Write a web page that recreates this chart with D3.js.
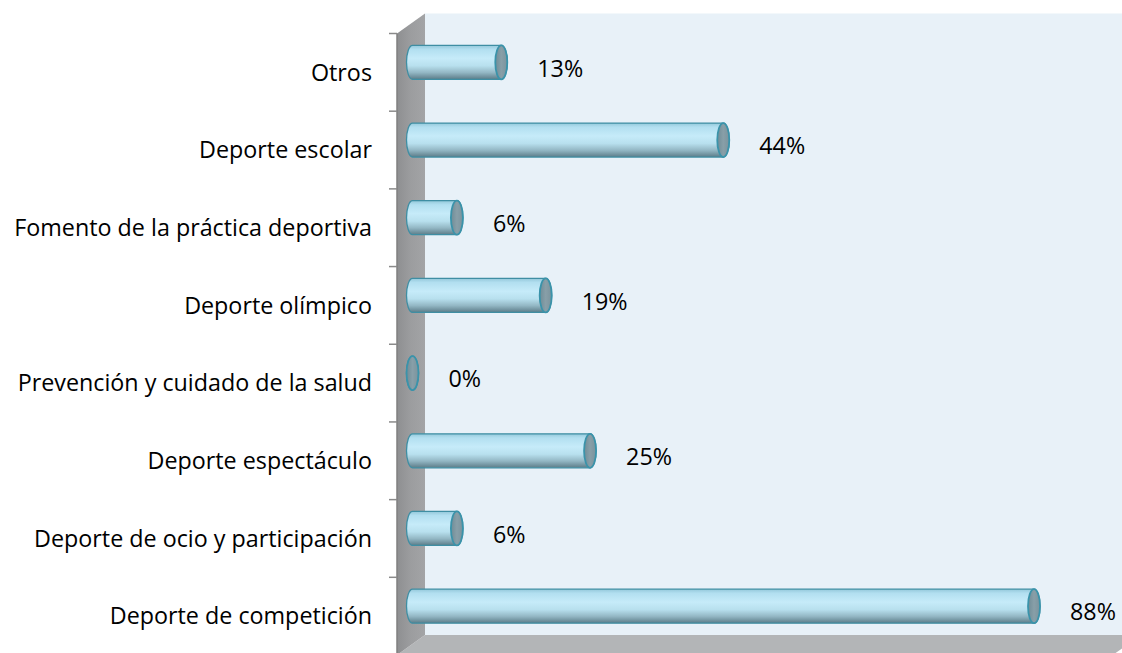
<!DOCTYPE html>
<html><head><meta charset="utf-8">
<script src="https://cdn.jsdelivr.net/npm/d3@7"></script>
<style>
html,body{margin:0;padding:0;background:#fff;}
svg{display:block;font-family:"Open Sans", sans-serif;font-weight:400;}
</style></head>
<body><svg id="c" width="1122" height="653"></svg>
<script>
// Data (top to bottom as drawn)
const categories = ["Otros","Deporte escolar","Fomento de la práctica deportiva","Deporte olímpico","Prevención y cuidado de la salud","Deporte espectáculo","Deporte de ocio y participación","Deporte de competición"];
const values = [12.5, 43.75, 6.25, 18.75, 0, 25, 6.25, 87.5];
const data = categories.map((c,i)=>({c, v: values[i]}));

const svg = d3.select("#c");
const W = 1122, H = 653;
const frontLeft = 397, frontTop = 33.5, frontBottom = 655;
const depthX = 28, depthY = -20;

const x = d3.scaleLinear().domain([0,100]).range([398.5, 1108.8]);
const y = d3.scaleBand().domain(categories).range([frontTop, frontBottom]).padding(0);

// defs
const defs = svg.append("defs");
const g1 = defs.append("linearGradient").attr("id","barGrad").attr("x1",0).attr("y1",0).attr("x2",0).attr("y2",1);
[[0,"#94c8da"],[0.12,"#b2dff0"],[0.38,"#c6ebf9"],[0.6,"#b8e0ee"],[0.8,"#93b7c4"],[1,"#5c7c88"]].forEach(s=>g1.append("stop").attr("offset",s[0]).attr("stop-color",s[1]));
const g2 = defs.append("linearGradient").attr("id","capGrad").attr("x1",0).attr("y1",0).attr("x2",1).attr("y2",0);
[[0,"#6f8c97"],[0.5,"#889fa8"],[1,"#7a939d"]].forEach(s=>g2.append("stop").attr("offset",s[0]).attr("stop-color",s[1]));
const g3 = defs.append("linearGradient").attr("id","sideGrad").attr("x1",0).attr("y1",0).attr("x2",1).attr("y2",0);
[[0,"#8e8f91"],[0.5,"#9c9d9f"],[1,"#a3a4a6"]].forEach(s=>g3.append("stop").attr("offset",s[0]).attr("stop-color",s[1]));

// back wall
svg.append("rect")
  .attr("x", frontLeft+depthX).attr("y", frontTop+depthY)
  .attr("width", W - (frontLeft+depthX)).attr("height", (frontBottom+depthY) - (frontTop+depthY))
  .attr("fill","#e8f1f8");
// floor
const x100 = x(100);
svg.append("path")
  .attr("d", `M${frontLeft+depthX},${frontBottom+depthY} L${x100+depthX+4},${frontBottom+depthY} L${x100+4},${frontBottom} L${frontLeft},${frontBottom} Z`)
  .attr("fill","#b3b5b7");
// side wall
svg.append("path")
  .attr("d", `M${frontLeft},${frontTop} L${frontLeft+depthX},${frontTop+depthY} L${frontLeft+depthX},${frontBottom+depthY} L${frontLeft},${frontBottom} Z`)
  .attr("fill","url(#sideGrad)");

// axis line + ticks
const ticks = y.domain().map(d=>y(d)).concat([frontBottom]);
svg.append("line").attr("x1",frontLeft).attr("x2",frontLeft).attr("y1",frontTop).attr("y2",frontBottom)
  .attr("stroke","#7f7f7f").attr("stroke-width",1.5);
svg.selectAll(".tick").data(ticks).enter().append("line")
  .attr("x1",frontLeft-8).attr("x2",frontLeft).attr("y1",d=>d).attr("y2",d=>d)
  .attr("stroke","#8a8a8a").attr("stroke-width",1.5);

// bars
const rx = 6, ry = 17;
const midX = depthX/2, midY = depthY/2;
const bars = svg.selectAll(".bar").data(data).enter().append("g");
bars.append("path")
  .attr("d", d=>{
    const x0 = x(0)+midX, x1 = x(d.v)+midX, cy = y(d.c)+y.bandwidth()/2+midY;
    return `M${x0},${cy-ry} L${x1},${cy-ry} A${rx},${ry} 0 0 1 ${x1},${cy+ry} L${x0},${cy+ry} A${rx},${ry} 0 0 1 ${x0},${cy-ry} Z`;
  })
  .attr("fill","url(#barGrad)").attr("stroke","#3f8ea3").attr("stroke-width",1.3);
bars.append("ellipse")
  .attr("cx", d=>x(d.v)+midX).attr("cy", d=>y(d.c)+y.bandwidth()/2+midY)
  .attr("rx", rx).attr("ry", ry)
  .attr("fill","url(#capGrad)").attr("stroke","#3a93aa").attr("stroke-width",1.8);

// category labels, sized to fit the reference label column
const cats = svg.selectAll(".cat").data(data).enter().append("text")
  .attr("x", 372).attr("y", d=>y(d.c)+y.bandwidth()/2)
  .attr("dy","0.35em").attr("text-anchor","end")
  .attr("font-size",20).attr("fill","#000")
  .text(d=>d.c);
const maxW = d3.max(cats.nodes(), n=>n.getComputedTextLength());
const fs = 20 * 358 / maxW;
cats.attr("font-size", fs);

// value labels
svg.selectAll(".val").data(data).enter().append("text")
  .attr("x", d=>x(d.v)+midX+36)
  .attr("y", d=>y(d.c)+y.bandwidth()/2-4)
  .attr("dy","0.35em")
  .attr("font-size",fs).attr("fill","#000")
  .text(d=>Math.round(d.v)+"%");
</script></body></html>
